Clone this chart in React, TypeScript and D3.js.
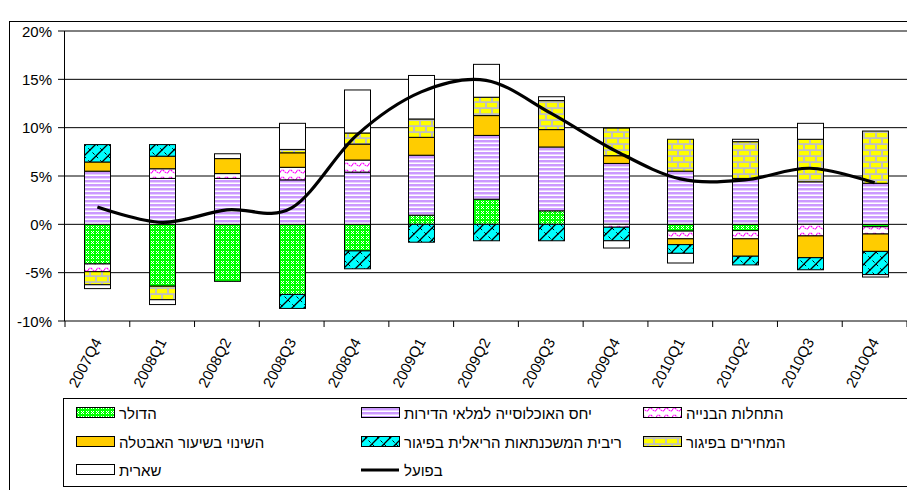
import React from "react";
import * as d3 from "d3";

// Quarterly decomposition of house-price change (percent), stacked by factor
const categories = [
  "2007Q4", "2008Q1", "2008Q2", "2008Q3", "2008Q4", "2009Q1", "2009Q2",
  "2009Q3", "2009Q4", "2010Q1", "2010Q2", "2010Q3", "2010Q4",
];
const dollar = [-4.1, -6.4, -5.9, -7.25, -2.75, 0.95, 2.6, 1.4, 0, -0.7, -0.65, 0, -0.25];
const popRatio = [5.5, 4.75, 4.75, 4.6, 5.4, 6.2, 6.6, 6.6, 6.3, 5.5, 4.75, 4.4, 4.25];
const starts = [-0.8, 1.0, 0.5, 1.3, 1.25, 0, 0, 0, -0.3, -0.8, -0.85, -1.2, -0.75];
const unemployment = [0.95, 1.3, 1.55, 1.5, 1.65, 1.85, 2.05, 1.8, 0.8, -0.6, -1.8, -2.25, -1.8];
const mortgage = [1.8, 1.2, 0, -1.45, -1.85, -1.85, -1.7, -1.7, -1.4, -0.9, -0.9, -1.25, -2.4];
const laggedPrices = [-1.35, -1.4, 0, 0.35, 1.15, 1.9, 1.9, 3.0, 2.85, 3.3, 3.8, 4.4, 5.4];
const residual = [-0.4, -0.5, 0.5, 2.7, 4.45, 4.5, 3.4, 0.4, -0.75, -1.0, 0.25, 1.65, -0.25];
const actual = [1.8, 0.2, 1.5, 1.7, 9.2, 13.7, 14.9, 11.5, 7.6, 4.7, 4.6, 5.8, 4.3];

const seriesNames = [
  "הדולר",
  "יחס האוכלוסייה למלאי הדירות",
  "התחלות הבנייה",
  "השינוי בשיעור האבטלה",
  "ריבית המשכנתאות הריאלית בפיגור",
  "המחירים בפיגור",
  "שארית",
];
const actualName = "בפועל";
const seriesValues = [dollar, popRatio, starts, unemployment, mortgage, laggedPrices, residual];
const yTicks = [-10, -5, 0, 5, 10, 15, 20];

const W = 907;
const H = 490;
const plot = { left: 65, right: 907, top: 31, bottom: 321 };
const FONT = "'Liberation Sans', Arial, 'DejaVu Sans', sans-serif";

const keys = seriesNames.map((_, i) => `s${i}`);
const rows = categories.map((c, j) => {
  const r: Record<string, any> = { cat: c };
  seriesValues.forEach((vals, i) => (r[`s${i}`] = vals[j]));
  return r;
});

function Patterns() {
  return (
    <defs>
      <pattern id="p0" patternUnits="userSpaceOnUse" width="5" height="5">
        <rect width="5" height="5" fill="#00ff00" />
        <rect x="1" y="1" width="1" height="1" fill="#ffffff" />
        <rect x="3" y="1" width="1" height="1" fill="#ffffff" />
        <rect x="2" y="2" width="1" height="1" fill="#ffffff" />
        <rect x="1" y="3" width="1" height="1" fill="#ffffff" />
        <rect x="3" y="3" width="1" height="1" fill="#ffffff" />
      </pattern>
      <pattern id="p1" patternUnits="userSpaceOnUse" width="4" height="4">
        <rect width="4" height="4" fill="#ffffff" />
        <rect y="0" width="4" height="2.4" fill="#cc99ff" />
        <rect y="2.4" width="4" height="0.6" fill="#e6ccff" />
      </pattern>
      <pattern id="p2" patternUnits="userSpaceOnUse" width="8" height="7">
        <rect width="8" height="7" fill="#ffffff" />
        <path d="M0,4.5 Q2,0.5 4,3 T8,4.5" fill="none" stroke="#ff00ff" strokeWidth="1.2" strokeDasharray="1.5 0.6" />
      </pattern>
      <pattern id="p3" patternUnits="userSpaceOnUse" width="4" height="4">
        <rect width="4" height="4" fill="#ffcc00" />
      </pattern>
      <pattern id="p4" patternUnits="userSpaceOnUse" width="12" height="12">
        <rect width="12" height="12" fill="#00ffff" />
        <path d="M0,12 L12,0 M-3,3 L3,-3 M9,15 L15,9" stroke="#000" strokeWidth="1.3" />
        <path d="M0,0 L12,12" stroke="#000" strokeWidth="1" strokeDasharray="3 3" />
      </pattern>
      <pattern id="p5" patternUnits="userSpaceOnUse" width="12" height="12">
        <rect width="12" height="12" fill="#c0c0c0" />
        <rect x="1" y="1" width="10" height="4.2" fill="#ffff00" />
        <rect x="7" y="7" width="10" height="4.2" fill="#ffff00" />
        <rect x="-5" y="7" width="10" height="4.2" fill="#ffff00" />
      </pattern>
      <pattern id="p6" patternUnits="userSpaceOnUse" width="4" height="4">
        <rect width="4" height="4" fill="#ffffff" />
      </pattern>
    </defs>
  );
}

export default function App() {
  const x = d3
    .scaleBand<string>()
    .domain(categories)
    .range([plot.left, plot.right])
    .paddingInner(0.6)
    .paddingOuter(0.3);
  const step = x.step();
  const y = d3.scaleLinear().domain([-10, 20]).range([plot.bottom, plot.top]);

  const stacked = d3
    .stack<Record<string, any>>()
    .keys(keys)
    .offset(d3.stackOffsetDiverging)(rows);

  const cx = (c: string) => (x(c) as number) + x.bandwidth() / 2;
  const line = d3
    .line<number>()
    .x((_, i) => cx(categories[i]))
    .y((v) => y(v))
    .curve(d3.curveCardinal.tension(0));

  const boundaries = d3.range(categories.length + 1).map((k) => plot.left + k * step);

  const legendCols = [76, 361, 643];
  const legendRows = [413, 442, 470];
  const legendItems = [...seriesNames.map((n, i) => ({ name: n, i })), { name: actualName, i: -1 }];

  return (
    <svg
      width={W}
      height={H}
      style={{ position: "fixed", left: 0, top: 0, background: "#fff" }}
      fontFamily={FONT}
    >
      <Patterns />
      <rect x={0} y={0} width={W} height={H} fill="#fff" />
      <rect x={9.5} y={21.5} width={1000} height={1000} fill="#fff" stroke="#000" strokeWidth={1} />

      {/* gridlines */}
      {yTicks.map((t) => (
        <line key={t} x1={plot.left} x2={plot.right} y1={y(t)} y2={y(t)} stroke="#000" strokeWidth={1} />
      ))}

      {/* y axis */}
      <line x1={plot.left - 0.5} x2={plot.left - 0.5} y1={plot.top} y2={plot.bottom} stroke="#000" />
      {yTicks.map((t) => (
        <g key={`yt${t}`}>
          <line x1={plot.left - 7} x2={plot.left} y1={y(t)} y2={y(t)} stroke="#000" />
          <text
            x={52}
            y={y(t)}
            textAnchor="end"
            dominantBaseline="central"
            fontSize={15}
            fill="#000"
          >
            {`${t}%`}
          </text>
        </g>
      ))}

      {/* x axis */}
      {boundaries.map((b, k) => (
        <line key={`xt${k}`} x1={b} x2={b} y1={plot.bottom} y2={plot.bottom + 6} stroke="#000" />
      ))}
      {categories.map((c) => (
        <text
          key={c}
          transform={`translate(${cx(c)},339) rotate(-62)`}
          textAnchor="end"
          dominantBaseline="central"
          fontSize={15}
          fill="#000"
        >
          {c}
        </text>
      ))}

      {/* stacked bars */}
      {stacked.map((s, i) => (
        <g key={s.key}>
          {s.map((d, j) => {
            const v = seriesValues[i][j];
            if (!v) return null;
            const y0 = y(d[0]);
            const y1 = y(d[1]);
            const bx = Math.round(x(categories[j]) as number) + 0.5;
            return (
              <rect
                key={j}
                x={bx}
                y={Math.min(y0, y1)}
                width={Math.round(x.bandwidth())}
                height={Math.abs(y1 - y0)}
                fill={`url(#p${i})`}
                stroke="#000"
                strokeWidth={1}
              />
            );
          })}
        </g>
      ))}

      {/* actual change */}
      <path d={line(actual) || ""} fill="none" stroke="#000" strokeWidth={3.2} strokeLinejoin="round" />

      {/* legend */}
      <rect x={63.5} y={398.5} width={900} height={88} fill="#fff" stroke="#000" strokeWidth={1} />
      {legendItems.map((item, k) => {
        const col = legendCols[k % 3];
        const row = legendRows[Math.floor(k / 3)];
        return (
          <g key={item.name}>
            {item.i >= 0 ? (
              <rect
                x={col + 0.5}
                y={row - 5.5}
                width={38}
                height={10}
                fill={`url(#p${item.i})`}
                stroke="#000"
                strokeWidth={1}
              />
            ) : (
              <line x1={col} x2={col + 38} y1={row} y2={row} stroke="#000" strokeWidth={3.2} />
            )}
            <text x={col + 43} y={row} dominantBaseline="central" fontSize={15} fill="#000">
              {item.name}
            </text>
          </g>
        );
      })}
    </svg>
  );
}
